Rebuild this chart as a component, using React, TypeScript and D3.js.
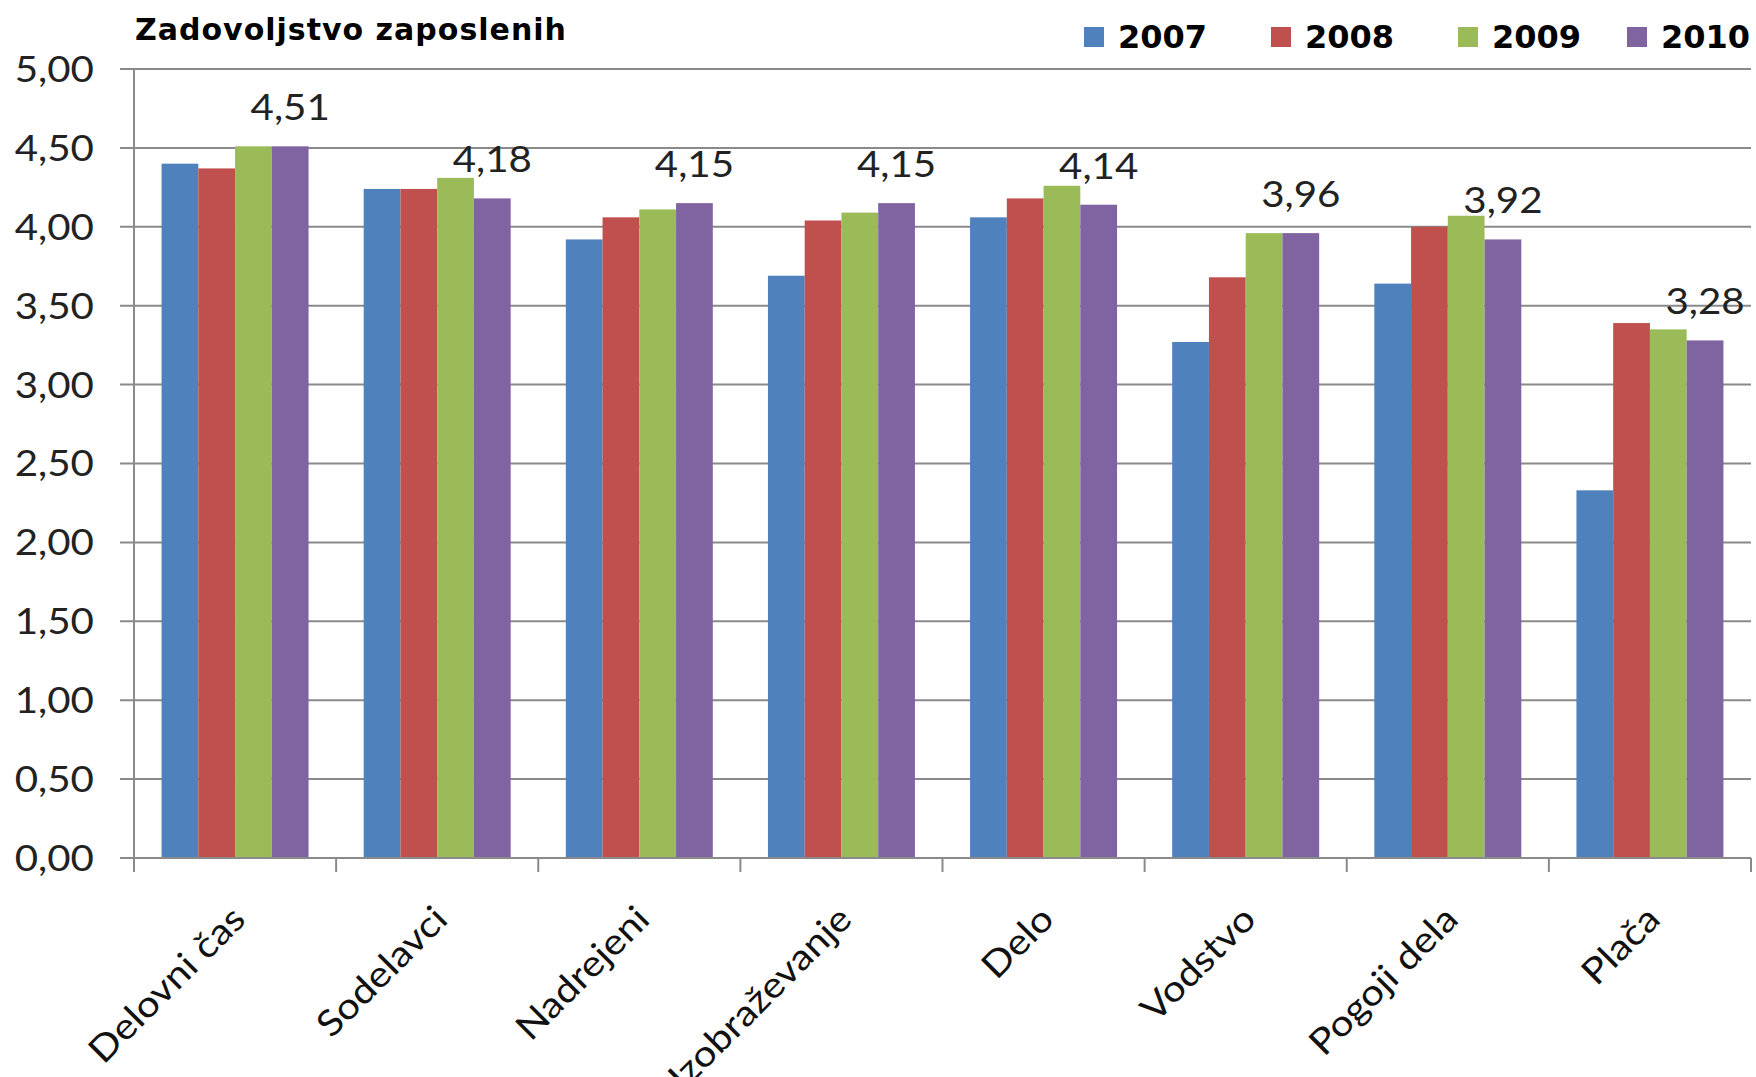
import React from "react";
import * as d3 from "d3";

const categories = ["Delovni čas", "Sodelavci", "Nadrejeni", "Izobraževanje", "Delo", "Vodstvo", "Pogoji dela", "Plača"];
const years = ["2007", "2008", "2009", "2010"];
const values2007 = [4.4, 4.24, 3.92, 3.69, 4.06, 3.27, 3.64, 2.33];
const values2008 = [4.37, 4.24, 4.06, 4.04, 4.18, 3.68, 4.0, 3.39];
const values2009 = [4.51, 4.31, 4.11, 4.09, 4.26, 3.96, 4.07, 3.35];
const values2010 = [4.51, 4.18, 4.15, 4.15, 4.14, 3.96, 3.92, 3.28];
const yTicks = [0, 0.5, 1, 1.5, 2, 2.5, 3, 3.5, 4, 4.5, 5];
const colors = ["#4F81BD", "#C0504D", "#9BBB59", "#8064A2"];
const title = "Zadovoljstvo zaposlenih";

const W = 1756;
const H = 1077;
const left = 134;
const right = 1751;
const top = 69;
const bottom = 858;
const legendX = [1084, 1271, 1458, 1627];

const seriesValues = [values2007, values2008, values2009, values2010];
const fmt = d3.formatLocale({ decimal: ",", thousands: ".", grouping: [3], currency: ["", "€"] }).format(".2f");

export default function App() {
  const x = d3.scaleBand<string>().domain(categories).range([left, right]).paddingInner(0).paddingOuter(0);
  const bw = x.bandwidth();
  const xs = d3
    .scaleBand<string>()
    .domain(years)
    .range([(bw * 0.75) / 5.5, (bw * 4.75) / 5.5])
    .padding(0);
  const y = d3.scaleLinear().domain([0, 5]).range([bottom, top]);
  const grid = "#8a8a8a";
  const font = "Lato, 'Open Sans', sans-serif";
  const boundaries = d3.range(categories.length + 1).map((i) => left + i * bw);
  const sx = 1.12;

  return (
    <svg width={W} height={H} style={{ position: "absolute", left: 0, top: 0, background: "#fff" }}>
      <rect x={0} y={0} width={W} height={H} fill="#fff" />
      {yTicks.map((t) => (
        <line key={"g" + t} x1={left - 14} x2={right} y1={y(t)} y2={y(t)} stroke={grid} strokeWidth={2} />
      ))}
      <line x1={left} x2={left} y1={top} y2={bottom + 14} stroke={grid} strokeWidth={2} />
      {boundaries.map((bx, i) => (
        <line key={"t" + i} x1={bx} x2={bx} y1={bottom} y2={bottom + 14} stroke={grid} strokeWidth={2} />
      ))}
      {categories.map((c, ci) => (
        <g key={c} transform={`translate(${x(c)},0)`}>
          {years.map((yr, si) => (
            <rect
              key={yr}
              x={xs(yr)}
              y={y(seriesValues[si][ci])}
              width={xs.bandwidth()}
              height={bottom - y(seriesValues[si][ci])}
              fill={colors[si]}
            />
          ))}
        </g>
      ))}
      <line x1={left} x2={right} y1={bottom} y2={bottom} stroke={grid} strokeWidth={2} />
      {categories.map((c, ci) => (
        <text
          key={"l" + c}
          transform={`translate(${(x(c) as number) + (xs("2010") as number) + xs.bandwidth() / 2},${y(values2010[ci]) - 26}) scale(${sx},1)`}
          textAnchor="middle"
          fontFamily={font}
          fontSize={36}
          fill="#222"
        >
          {fmt(values2010[ci])}
        </text>
      ))}
      {yTicks.map((t) => (
        <text
          key={"yl" + t}
          transform={`translate(94,${y(t)}) scale(${sx},1)`}
          dy="0.36em"
          textAnchor="end"
          fontFamily={font}
          fontSize={36}
          fill="#222"
        >
          {fmt(t)}
        </text>
      ))}
      {categories.map((c) => {
        const cx = (x(c) as number) + bw / 2 - 6;
        const cy = 903;
        return (
          <text
            key={"cl" + c}
            transform={`translate(${cx},${cy}) rotate(-45) scale(${sx},1)`}
            dy="0.72em"
            textAnchor="end"
            fontFamily={font}
            fontSize={36}
            fill="#111"
          >
            {c}
          </text>
        );
      })}
      <text x={135} y={40} fontFamily="'DejaVu Sans', sans-serif" fontWeight="bold" fontSize={30} letterSpacing={1} fill="#000">
        {title}
      </text>
      {years.map((yr, i) => (
        <g key={"lg" + yr}>
          <rect x={legendX[i]} y={27} width={20} height={20} fill={colors[i]} />
          <text x={legendX[i] + 34} y={48} fontFamily="'DejaVu Sans', sans-serif" fontWeight="bold" fontSize={32} fill="#000">
            {yr}
          </text>
        </g>
      ))}
    </svg>
  );
}
